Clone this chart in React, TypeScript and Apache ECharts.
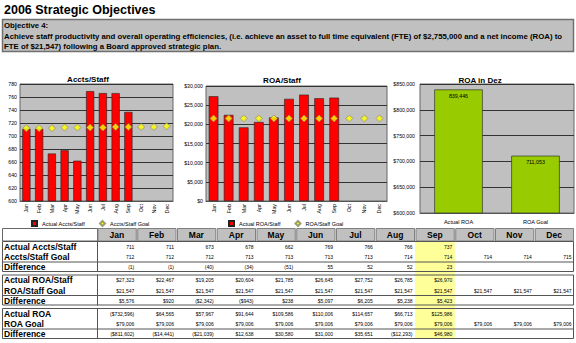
import React, { useEffect, useRef } from 'react';
import * as echarts from 'echarts';

const FONT = '"Liberation Sans", Arial, sans-serif';

const months = ['Jan', 'Feb', 'Mar', 'Apr', 'May', 'Jun', 'Jul', 'Aug', 'Sep', 'Oct', 'Nov', 'Dec'];

const acctsActual = [711, 711, 673, 678, 662, 769, 766, 766, 737];
const acctsGoal = [712, 712, 712, 713, 713, 713, 713, 714, 714, 714, 714, 715];
const acctsDiff = [-1, -1, -40, -34, -51, 55, 52, 52, 23];

const roaStaffActual = [27323, 22467, 19205, 20604, 21785, 26645, 27752, 26785, 26970];
const roaStaffGoal = [21547, 21547, 21547, 21547, 21547, 21547, 21547, 21547, 21547, 21547, 21547, 21547];
const roaStaffDiff = [5576, 920, -2342, -943, 238, 5097, 6205, 5238, 5423];

const roaActual = [-732596, 64565, 57967, 91644, 109586, 110006, 114657, 66713, 125986];
const roaGoal = [79006, 79006, 79006, 79006, 79006, 79006, 79006, 79006, 79006, 79006, 79006, 79006];
const roaDiff = [-811602, -14441, -21039, 12638, 30580, 31000, 35651, -12293, 46980];

const roaDezCategories = ['Actual ROA', 'ROA Goal'];
const roaDezValues = [839446, 711053];

const mainTitle = '2006 Strategic Objectives';
const objectiveLines = [
  'Objective 4:',
  'Achieve staff productivity and overall operating efficiencies, (i.e. achieve an asset to full time equivalent (FTE) of $2,755,000 and a net income (ROA) to',
  'FTE of $21,547) following a Board approved strategic plan.',
];

const fmtInt = (v: number) => (v < 0 ? `(${Math.abs(v)})` : `${v}`);
const fmtMoney = (v: number) => {
  const s = '$' + Math.abs(v).toLocaleString('en-US');
  return v < 0 ? `(${s})` : s;
};

const tableBlocks = [
  {
    labels: ['Actual Accts/Staff', 'Accts/Staff Goal', 'Difference'],
    rows: [acctsActual.map(fmtInt), acctsGoal.map(fmtInt), acctsDiff.map(fmtInt)],
  },
  {
    labels: ['Actual ROA/Staff', 'ROA/Staff Goal', 'Difference'],
    rows: [roaStaffActual.map(fmtMoney), roaStaffGoal.map(fmtMoney), roaStaffDiff.map(fmtMoney)],
  },
  {
    labels: ['Actual ROA', 'ROA Goal', 'Difference'],
    rows: [roaActual.map(fmtMoney), roaGoal.map(fmtMoney), roaDiff.map(fmtMoney)],
  },
];

function txt(x: number, y: number, text: string, font: string, align = 'left', vAlign = 'middle', z = 10) {
  return {
    type: 'text',
    x,
    y,
    z,
    silent: true,
    style: {
      text,
      font,
      fill: '#000',
      align,
      verticalAlign: vAlign,
      textAlign: align,
      textVerticalAlign: vAlign,
    },
  };
}

function buildGraphic() {
  const g: any[] = [];
  g.push(txt(4, 10, mainTitle, `bold 12.5px ${FONT}`));
  g.push({
    type: 'rect',
    z: 1,
    shape: { x: 2.5, y: 19.5, width: 571, height: 32 },
    style: { fill: '#c0c0c0', stroke: '#707070', lineWidth: 1.5 },
  });
  const objY = [25.5, 36, 46];
  objectiveLines.forEach((t, i) => g.push(txt(4, objY[i], t, `bold 7.8px ${FONT}`)));

  g.push(txt(88, 79, 'Accts/Staff', `bold 8px ${FONT}`, 'center'));
  g.push(txt(282, 80, 'ROA/Staff', `bold 8px ${FONT}`, 'center'));
  g.push(txt(480, 80, 'ROA in Dez', `bold 8px ${FONT}`, 'center'));

  const L = 2;
  const LR = 97;
  const R = 574;
  const colW = (R - LR) / 12;
  const hTop = 228;
  const hH = 12.5;

  g.push({
    type: 'rect',
    z: 1,
    shape: { x: LR + 8 * colW, y: hTop + hH, width: colW, height: 98.5 },
    style: { fill: '#ffff99' },
  });

  g.push({
    type: 'rect',
    z: 2,
    shape: { x: L + 0.5, y: hTop + 0.5, width: LR - L, height: hH },
    style: { fill: '#fff', stroke: '#666', lineWidth: 1 },
  });
  months.forEach((m, i) => {
    g.push({
      type: 'rect',
      z: 2,
      shape: { x: LR + i * colW + 1, y: hTop + 0.5, width: colW - 1.5, height: hH },
      style: { fill: '#c0c0c0', stroke: '#808080', lineWidth: 1 },
    });
    g.push(txt(LR + i * colW + colW / 2, hTop + hH / 2 + 0.8, m, `bold 8.5px ${FONT}`, 'center'));
  });

  const blockTops = [241, 274.5, 308];
  tableBlocks.forEach((b, bi) => {
    const T = blockTops[bi];
    const rowY = [T + 5.5, T + 16, T + 26.2];
    g.push({
      type: 'rect',
      z: 3,
      shape: { x: L + 0.5, y: T + 0.5, width: R - L - 1, height: 30 },
      style: { fill: 'none', stroke: '#555', lineWidth: 1 },
    });
    g.push({
      type: 'line',
      z: 3,
      shape: { x1: L, y1: T + 21, x2: R, y2: T + 21 },
      style: { stroke: '#555', lineWidth: 1 },
    });
    g.push({
      type: 'line',
      z: 3,
      shape: { x1: LR + 0.5, y1: T, x2: LR + 0.5, y2: T + 31 },
      style: { stroke: '#555', lineWidth: 1 },
    });
    b.labels.forEach((lab, ri) => g.push(txt(4, rowY[ri], lab, `bold 8.5px ${FONT}`)));
    b.rows.forEach((row, ri) => {
      row.forEach((v, ci) => {
        g.push(txt(LR + (ci + 1) * colW - 2.5, rowY[ri], v, `5px ${FONT}`, 'right'));
      });
    });
  });
  return g;
}

const moneyFmt = (v: number) => '$' + v.toLocaleString('en-US');

export default function App() {
  const ref = useRef<HTMLDivElement>(null);
  useEffect(() => {
    if (!ref.current) return;
    const chart = echarts.init(ref.current, null, { renderer: 'svg' });
    const gridBase = {
      show: true,
      backgroundColor: '#c0c0c0',
      borderColor: '#666',
      borderWidth: 1,
      containLabel: false,
    };
    const catAxisCommon = {
      type: 'category',
      axisLine: { show: true, lineStyle: { color: '#555' } },
      axisTick: { show: false },
      axisLabel: { rotate: 90, fontSize: 5.3, color: '#000', margin: 3, fontFamily: FONT },
    };
    const valAxisCommon = {
      type: 'value',
      axisLine: { show: false },
      axisTick: { show: false },
      splitLine: { show: true, lineStyle: { color: '#333', width: 1 } },
    };
    const option: any = {
      animation: false,
      textStyle: { fontFamily: FONT },
      grid: [
        { ...gridBase, left: 20, top: 84, width: 153, height: 117 },
        { ...gridBase, left: 206, top: 86, width: 181, height: 115 },
        { ...gridBase, left: 420, top: 84, width: 154, height: 129 },
      ],
      xAxis: [
        { ...catAxisCommon, gridIndex: 0, data: months },
        { ...catAxisCommon, gridIndex: 1, data: months },
        {
          ...catAxisCommon,
          gridIndex: 2,
          data: roaDezCategories,
          axisLabel: { rotate: 0, fontSize: 5.6, color: '#000', margin: 6, fontFamily: FONT },
        },
      ],
      yAxis: [
        {
          ...valAxisCommon,
          gridIndex: 0,
          min: 600,
          max: 780,
          interval: 20,
          axisLabel: { fontSize: 5.2, color: '#000', margin: 3, fontFamily: FONT },
        },
        {
          ...valAxisCommon,
          gridIndex: 1,
          min: 0,
          max: 30000,
          interval: 5000,
          axisLabel: { fontSize: 5.2, color: '#000', margin: 3, fontFamily: FONT, formatter: moneyFmt },
        },
        {
          ...valAxisCommon,
          gridIndex: 2,
          min: 600000,
          max: 850000,
          interval: 50000,
          axisLabel: { fontSize: 5.2, color: '#000', margin: 5, fontFamily: FONT, formatter: moneyFmt },
        },
      ],
      legend: [
        {
          left: 31,
          top: 220,
          padding: 0,
          itemWidth: 5,
          itemHeight: 5,
          itemGap: 14,
          textStyle: { fontSize: 5.5, color: '#000', fontFamily: FONT },
          data: [
            { name: 'Actual Accts/Staff', icon: 'rect' },
            { name: 'Accts/Staff Goal', icon: 'diamond' },
          ],
        },
        {
          left: 228,
          top: 220,
          padding: 0,
          itemWidth: 5,
          itemHeight: 5,
          itemGap: 14,
          textStyle: { fontSize: 5.5, color: '#000', fontFamily: FONT },
          data: [
            { name: 'Actual ROA/Staff', icon: 'rect' },
            { name: 'ROA/Staff Goal', icon: 'diamond' },
          ],
        },
      ],
      series: [
        {
          name: 'Actual Accts/Staff',
          type: 'bar',
          xAxisIndex: 0,
          yAxisIndex: 0,
          data: acctsActual,
          barWidth: '64%',
          itemStyle: { color: '#ff0000', borderColor: '#222', borderWidth: 0.6 },
        },
        {
          name: 'Accts/Staff Goal',
          type: 'scatter',
          xAxisIndex: 0,
          yAxisIndex: 0,
          data: acctsGoal,
          symbol: 'diamond',
          symbolSize: 7,
          z: 5,
          itemStyle: { color: '#ffff00', borderColor: '#858560', borderWidth: 0.8 },
        },
        {
          name: 'Actual ROA/Staff',
          type: 'bar',
          xAxisIndex: 1,
          yAxisIndex: 1,
          data: roaStaffActual,
          barWidth: '64%',
          itemStyle: { color: '#ff0000', borderColor: '#222', borderWidth: 0.6 },
        },
        {
          name: 'ROA/Staff Goal',
          type: 'scatter',
          xAxisIndex: 1,
          yAxisIndex: 1,
          data: roaStaffGoal,
          symbol: 'diamond',
          symbolSize: 7,
          z: 5,
          itemStyle: { color: '#ffff00', borderColor: '#858560', borderWidth: 0.8 },
        },
        {
          name: 'ROA in Dez',
          type: 'bar',
          xAxisIndex: 2,
          yAxisIndex: 2,
          data: roaDezValues,
          barWidth: '63%',
          itemStyle: { color: '#99cc00', borderColor: '#333', borderWidth: 0.7 },
          label: {
            show: true,
            position: 'insideTop',
            distance: 4,
            fontSize: 5.3,
            color: '#000',
            fontFamily: FONT,
            formatter: (p: any) => Number(p.value).toLocaleString('en-US'),
          },
        },
      ],
      graphic: buildGraphic(),
    };
    chart.setOption(option);
    return () => chart.dispose();
  }, []);
  return (
    <div
      ref={ref}
      style={{ position: 'fixed', left: 0, top: 0, width: 576, height: 343, background: '#fff' }}
    />
  );
}
